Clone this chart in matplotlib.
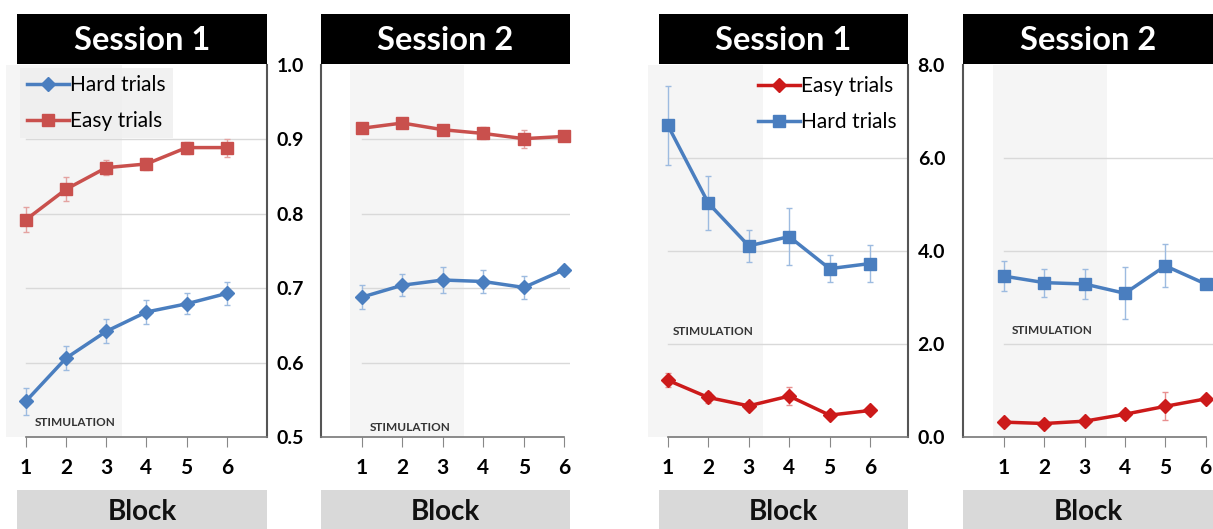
import numpy as np
import matplotlib.pyplot as plt
from matplotlib.patches import Rectangle

plt.rcParams['font.family'] = ['Lato', 'DejaVu Sans']

blocks = [1, 2, 3, 4, 5, 6]

# accuracy (left pair)
acc_easy_s1 = [0.792, 0.833, 0.862, 0.867, 0.889, 0.889]
acc_easy_s1_err = [0.017, 0.016, 0.010, 0.008, 0.008, 0.012]
acc_hard_s1 = [0.548, 0.606, 0.642, 0.668, 0.679, 0.693]
acc_hard_s1_err = [0.018, 0.016, 0.016, 0.016, 0.014, 0.015]
acc_easy_s2 = [0.915, 0.922, 0.913, 0.908, 0.901, 0.904]
acc_easy_s2_err = [0.006, 0.006, 0.006, 0.008, 0.012, 0.004]
acc_hard_s2 = [0.688, 0.704, 0.711, 0.709, 0.701, 0.725]
acc_hard_s2_err = [0.016, 0.015, 0.017, 0.015, 0.016, 0.003]

# second measure (right pair)
m_hard_s1 = [6.70, 5.03, 4.11, 4.31, 3.62, 3.73]
m_hard_s1_err = [0.85, 0.58, 0.35, 0.62, 0.29, 0.40]
m_easy_s1 = [1.22, 0.85, 0.67, 0.88, 0.47, 0.57]
m_easy_s1_err = [0.15, 0.12, 0.08, 0.20, 0.06, 0.06]
m_hard_s2 = [3.46, 3.32, 3.29, 3.09, 3.68, 3.29]
m_hard_s2_err = [0.33, 0.30, 0.32, 0.56, 0.46, 0.02]
m_easy_s2 = [0.32, 0.29, 0.34, 0.49, 0.66, 0.82]
m_easy_s2_err = [0.06, 0.05, 0.07, 0.10, 0.30, 0.05]

W, H = 1213, 529
fig = plt.figure(figsize=(W / 100, H / 100), dpi=100)

BLUE = '#4a7ebf'
BLUE_E = '#9dbbe0'
RED1 = '#c9504d'
RED1_E = '#e4a3a1'
RED2 = '#cc1a1a'
RED2_E = '#e88f8f'
GRID = '#d9d9d9'
SHADE = '#f5f5f5'

ax_top, ax_bot = 65, 437


def make_panel(x0, x1, xlim, ylim, yticks, side, shade, title, stim_xy):
    ax = fig.add_axes([x0 / W, 1 - ax_bot / H, (x1 - x0) / W, (ax_bot - ax_top) / H])
    ax.set_xlim(*xlim)
    ax.set_ylim(*ylim)
    ax.axvspan(shade[0], shade[1], color=SHADE, zorder=0, clip_on=False, lw=0)
    for yt in yticks[1:-1]:
        ax.plot([1, 7 if side == 'right' else xlim[1]], [yt, yt], color=GRID, lw=1, zorder=1)
    for s in ['top', 'left', 'right']:
        ax.spines[s].set_visible(False)
    ax.spines[side].set_visible(True)
    ax.spines[side].set_color('#555555')
    ax.spines[side].set_linewidth(1.5)
    ax.spines['bottom'].set_color('#777777')
    ax.spines['bottom'].set_linewidth(1.2)
    if side == 'right':
        ax.spines['bottom'].set_bounds(1, xlim[1])
        ax.yaxis.tick_right()
        ax.set_yticks(yticks)
        ax.set_yticklabels([f'{v:.1f}' for v in yticks], fontsize=14, fontweight='bold')
        ax.tick_params(axis='y', length=0, pad=7)
    else:
        ax.spines['bottom'].set_bounds(xlim[0], 6)
        ax.set_yticks([])
    ax.set_xticks(blocks)
    ax.set_xticklabels([str(b) for b in blocks], fontsize=15, fontweight='bold')
    ax.tick_params(axis='x', length=7, color='#888888', pad=8)
    ax.set_facecolor('none')
    ax.text(stim_xy[0], stim_xy[1], 'STIMULATION', fontsize=8.5, fontweight='bold',
            color='#333333', va='center')
    # title box
    fig.add_artist(Rectangle((x0 / W, 1 - 64 / H), (x1 - x0) / W, 50 / H,
                             transform=fig.transFigure, color='black', lw=0))
    fig.text((x0 + x1) / 2 / W, 1 - 41 / H, title, color='white', fontsize=23.5,
             fontweight='bold', ha='center', va='center')
    # block box
    fig.add_artist(Rectangle((x0 / W, 0), (x1 - x0) / W, 39 / H,
                             transform=fig.transFigure, color='#d9d9d9', lw=0))
    fig.text((x0 + x1) / 2 / W, 1 - 512 / H, 'Block', color='#111111', fontsize=20,
             fontweight='bold', ha='center', va='center')
    return ax


def series(ax, y, err, color, ecolor, marker, ms, label=None):
    ax.errorbar(blocks, y, yerr=err, fmt='none', ecolor=ecolor, elinewidth=1,
                capsize=2.5, capthick=1, zorder=2, clip_on=False)
    ax.plot(blocks, y, color=color, lw=2.5, marker=marker, ms=ms, label=label,
            zorder=3, clip_on=False)


acc_ticks = [0.5, 0.6, 0.7, 0.8, 0.9, 1.0]
m_ticks = [0.0, 2.0, 4.0, 6.0, 8.0]

ax1 = make_panel(17, 267, (0.78, 7.0), (0.5, 1.0), acc_ticks, 'right', (0.5, 3.39),
                 'Session 1', (1.22, 0.52))
series(ax1, acc_hard_s1, acc_hard_s1_err, BLUE, BLUE_E, 'D', 7, 'Hard trials')
series(ax1, acc_easy_s1, acc_easy_s1_err, RED1, RED1_E, 's', 9, 'Easy trials')
leg = ax1.legend(loc='upper left', bbox_to_anchor=(0.0, 1.0), fontsize=15, frameon=True,
                 handlelength=2.0, handletextpad=0.05, labelspacing=0.75,
                 borderpad=0.35, fancybox=False, borderaxespad=0.15)
leg.get_frame().set_facecolor('#eeeeee')
leg.get_frame().set_edgecolor('none')

ax2 = make_panel(321, 570, (-0.01, 6.14), (0.5, 1.0), acc_ticks, 'left', (0.7, 3.52),
                 'Session 2', (1.2, 0.513))
series(ax2, acc_hard_s2, acc_hard_s2_err, BLUE, BLUE_E, 'D', 7)
series(ax2, acc_easy_s2, acc_easy_s2_err, RED1, RED1_E, 's', 9)

ax3 = make_panel(659, 908, (0.78, 6.94), (0.0, 8.0), m_ticks, 'right', (0.5, 3.35),
                 'Session 1', (1.12, 2.26))
series(ax3, m_easy_s1, m_easy_s1_err, RED2, RED2_E, 'D', 7, 'Easy trials')
series(ax3, m_hard_s1, m_hard_s1_err, BLUE, BLUE_E, 's', 9, 'Hard trials')
ax3.legend(loc='upper right', bbox_to_anchor=(1.0, 1.0), fontsize=15, frameon=False,
           handlelength=2.0, handletextpad=0.05, labelspacing=0.75, borderaxespad=0.15)

ax4 = make_panel(963, 1213, (-0.01, 6.18), (0.0, 8.0), m_ticks, 'left', (0.73, 3.55),
                 'Session 2', (1.2, 2.3))
series(ax4, m_hard_s2, m_hard_s2_err, BLUE, BLUE_E, 's', 9)
series(ax4, m_easy_s2, m_easy_s2_err, RED2, RED2_E, 'D', 7)

fig.savefig('out.png', dpi=100)
